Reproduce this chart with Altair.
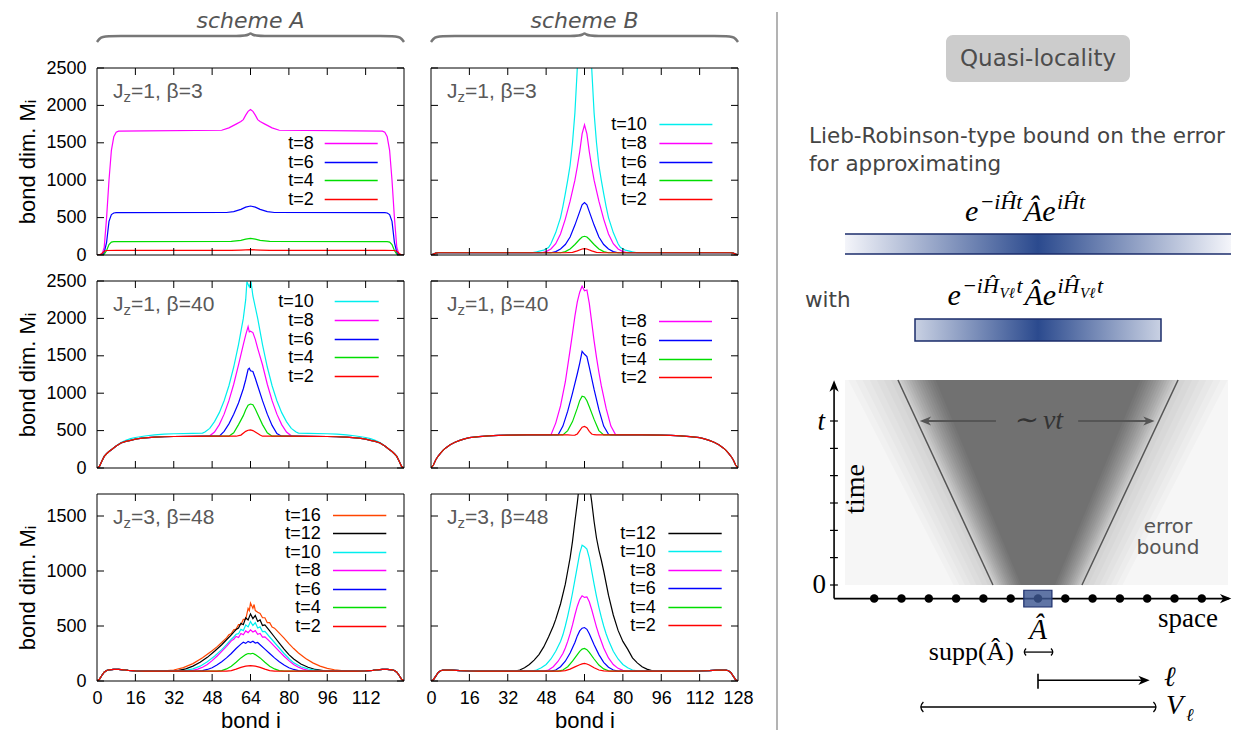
import altair as alt
import pandas as pd

SANS = "Liberation Sans"
DJ = "DejaVu Sans"
SERIF = "Liberation Serif"

COL = {"t=2": "#ff0000", "t=4": "#00dd00", "t=6": "#0000ff", "t=8": "#ff00ff",
       "t=10": "#00eeee", "t=12": "#000000", "t=16": "#ff4500"}

Y25 = [0, 500, 1000, 1500, 2000, 2500]
Y17 = [0, 500, 1000, 1500]
XT_A = [0, 16, 32, 48, 64, 80, 96, 112]
XT_B = [0, 16, 32, 48, 64, 80, 96, 112, 128]
XT_IN = [16, 32, 48, 64, 80, 96, 112]

# ---------------- data: (bond i, bond dimension M_i) ----------------
A1_t2 = [(0,0),(1,0),(2,20),(3,50),(4,60),(8,62),(56,62),(60,66),(64,72),(68,66),(72,62),(120,62),(124,60),(125,50),(126,20),(127,0),(128,0)]
A1_t4 = [(0,0),(2,0),(3,10),(4,60),(5,140),(6,172),(7,179),(10,180),(56,181),(60,195),(62,212),(64,222),(66,212),(68,195),(72,181),(118,180),(121,179),(122,172),(123,140),(124,60),(125,10),(126,0),(128,0)]
A1_t6 = [(0,0),(2,0),(3,30),(4,170),(5,450),(6,540),(7,562),(8,567),(54,568),(57,580),(60,610),(62,640),(64,655),(66,640),(68,610),(71,580),(74,568),(120,567),(121,562),(122,540),(123,450),(124,170),(125,30),(126,0),(128,0)]
A1_t8 = [(0,0),(2,0),(3,100),(4,500),(5,1000),(6,1400),(7,1580),(8,1640),(9,1655),(20,1660),(52,1668),(55,1700),(58,1750),(60,1785),(61,1810),(62,1870),(63,1920),(64,1945),(65,1920),(66,1870),(67,1810),(68,1785),(70,1750),(73,1700),(76,1668),(108,1660),(119,1655),(120,1640),(121,1580),(122,1400),(123,1000),(124,500),(125,100),(126,0),(128,0)]

B1_base = [(0,0),(1,12),(2,25),(3,30),(125,30),(126,25),(127,12),(128,0)]
B1_t2 = [(56,30),(59,36),(61,55),(63,80),(64,85),(65,80),(67,55),(69,36),(72,30)]
B1_t4 = [(54,30),(56,45),(58,80),(60,140),(62,210),(63,240),(64,250),(65,240),(66,210),(68,140),(70,80),(72,45),(74,30)]
B1_t6 = [(50,30),(52,45),(54,80),(56,140),(58,240),(60,400),(62,580),(63,670),(64,700),(65,670),(66,580),(68,400),(70,240),(72,140),(74,80),(76,45),(78,30)]
B1_t8 = [(46,30),(48,45),(50,80),(52,150),(54,280),(56,480),(58,720),(60,1000),(61,1180),(62,1380),(63,1620),(64,1740),(65,1620),(66,1380),(67,1180),(68,1000),(70,720),(72,480),(74,280),(76,150),(78,80),(80,45),(82,30)]
B1_t10 = [(42,30),(44,42),(47,65),(49,100),(50,150),(52,300),(54,500),(55,650),(56,820),(57,1000),(58,1200),(59,1500),(60,1900),(61,2500),(62,3000),(63,3500),(64,3800),(65,3500),(66,3000),(67,2500),(68,1900),(69,1500),(70,1200),(71,1000),(72,820),(73,650),(74,500),(76,300),(78,150),(79,100),(81,65),(84,42),(86,30)]

A2_base = [(0,0),(1,20),(2,90),(3,155),(4,190),(5,220),(6,245),(8,295),(10,335),(12,355),(14,370),(16,385),(18,395),(20,402),(24,412),(28,418),(32,421),(40,424),(48,425),(80,425),(88,424),(96,421),(100,418),(104,412),(108,402),(110,395),(112,385),(114,370),(116,355),(118,335),(120,295),(122,245),(123,220),(124,190),(125,155),(126,90),(127,20),(128,0)]
A2_t2 = [(58,425),(60,440),(62,490),(63,505),(64,510),(65,500),(66,480),(68,440),(69,425)]
A2_t4 = [(55,425),(57,470),(59,580),(61,700),(62,780),(63,840),(64,855),(65,845),(66,790),(67,720),(69,580),(71,470),(73,425)]
A2_t6 = [(51,425),(53,490),(55,590),(57,720),(59,870),(61,1060),(62,1180),(63,1320),(63.5,1335),(64,1300),(65,1290),(66,1200),(67,1100),(69,900),(71,720),(73,570),(75,460),(77,425)]
A2_t8 = [(47,430),(49,480),(51,580),(53,720),(55,900),(57,1120),(59,1380),(61,1650),(62,1780),(63,1890),(63.5,1820),(64,1830),(65,1810),(66,1720),(67,1600),(69,1380),(71,1120),(73,900),(75,720),(77,580),(79,480),(81,430)]
A2_t10 = [(0,0),(1,20),(2,90),(3,155),(4,190),(5,220),(6,245),(8,295),(10,340),(12,370),(14,392),(16,408),(20,428),(24,442),(28,452),(32,458),(40,462),(44,466),(45,480),(47,530),(49,620),(51,740),(53,900),(55,1100),(57,1350),(59,1650),(61,2000),(62,2250),(62.5,2490),(63.5,2420),(64.2,2495),(65,2300),(66,2150),(67,2000),(69,1650),(71,1350),(73,1100),(75,900),(77,740),(79,620),(81,530),(83,480),(84,466),(88,462),(96,458),(100,452),(104,442),(108,428),(112,408),(114,392),(116,370),(118,340),(120,295),(122,245),(123,220),(124,190),(125,155),(126,90),(127,20),(128,0)]

B2_base = [(0,0),(1,40),(2,110),(3,160),(4,200),(5,235),(6,265),(8,310),(10,345),(12,370),(14,390),(16,405),(20,420),(24,430),(28,436),(32,440),(40,442),(48,443),(80,443),(88,442),(96,440),(100,436),(104,430),(108,420),(112,405),(114,390),(116,370),(118,345),(120,310),(122,265),(123,235),(124,200),(125,160),(126,110),(127,40),(128,0)]
B2_t2 = [(57,443),(59,438),(60,440),(61,455),(62,500),(63,545),(64,555),(65,540),(66,490),(67,455),(68,445),(69,443)]
B2_t4 = [(55,443),(57,500),(59,620),(61,800),(62,900),(63,960),(64,950),(65,900),(66,820),(68,650),(70,500),(72,443)]
B2_t6 = [(53,443),(55,560),(57,760),(59,1000),(61,1260),(62,1400),(63,1560),(64,1520),(65,1490),(66,1350),(68,1050),(70,780),(72,560),(74,450),(75,443)]
B2_t8 = [(50,443),(52,600),(54,830),(56,1150),(58,1580),(59,1800),(60,2030),(61,2220),(62,2350),(63,2430),(64,2370),(65,2380),(66,2200),(67,1950),(68,1700),(69,1480),(70,1280),(71,1100),(73,800),(75,560),(77,443)]

A3_base = [(0,0),(1,15),(2,50),(3,80),(4,95),(5,102),(7,106),(9,106),(11,102),(13,96),(16,92),(20,90),(108,90),(112,92),(115,96),(117,102),(119,106),(121,106),(123,102),(124,95),(125,80),(126,50),(127,15),(128,0)]
A3_t2 = [(54,90),(56,95),(58,108),(60,124),(62,135),(64,140),(66,135),(68,124),(70,108),(72,95),(74,90)]
A3_t4 = [(50,90),(52,95),(54,110),(56,135),(58,170),(60,210),(62,240),(63,250),(64,246),(65,252),(66,240),(68,210),(70,170),(72,135),(74,110),(76,95),(78,90)]
A3_t6 = [(42,90),(44,95),(46,105),(48,120),(50,145),(52,175),(54,210),(56,250),(58,295),(60,335),(61,352),(62,342),(63,360),(64,350),(65,362),(66,345),(67,350),(68,330),(70,290),(72,250),(74,210),(76,175),(78,145),(80,120),(82,105),(84,95),(86,90)]
A3_t8 = [(38,90),(40,97),(42,108),(44,125),(46,150),(48,185),(50,225),(52,270),(54,315),(56,365),(57,380),(58,405),(59,395),(60,432),(61,420),(62,455),(63,440),(64,465),(65,445),(66,458),(67,425),(68,432),(69,400),(70,402),(72,360),(74,315),(76,270),(78,225),(80,185),(82,150),(84,125),(86,108),(88,97),(90,90)]
A3_t10 = [(35,90),(37,96),(40,110),(43,135),(46,175),(49,225),(52,285),(54,330),(56,380),(57,400),(58,425),(59,430),(60,470),(61,458),(62,510),(63,492),(64,540),(65,505),(66,530),(67,482),(68,492),(69,450),(70,452),(72,400),(74,350),(76,300),(78,250),(80,205),(82,165),(85,130),(88,110),(91,98),(94,90)]
A3_t12 = [(31,90),(34,97),(37,110),(40,135),(43,170),(46,215),(49,270),(52,330),(54,375),(56,420),(57,445),(58,468),(59,482),(60,525),(61,512),(62,575),(63,555),(64,610),(65,567),(66,595),(67,542),(68,555),(69,505),(70,510),(72,455),(74,400),(76,345),(78,290),(80,240),(82,200),(85,155),(88,125),(91,105),(95,93),(98,90)]
A3_t16 = [(24,90),(28,93),(32,100),(36,122),(40,158),(44,212),(48,275),(50,310),(52,350),(53,372),(54,392),(55,420),(56,432),(57,466),(58,472),(59,512),(60,512),(61,560),(62,560),(63,660),(63.5,640),(64,708),(65,660),(65.5,695),(66,640),(67,625),(68,615),(69,575),(70,575),(71,530),(72,530),(73,490),(74,480),(76,435),(78,390),(80,340),(82,295),(84,255),(87,205),(90,165),(93,135),(96,115),(99,102),(102,95),(105,90)]

B3_base = [(0,0),(1,12),(2,45),(3,78),(4,93),(5,98),(7,100),(9,99),(12,94),(16,91),(20,90),(108,90),(112,91),(116,94),(119,99),(121,100),(123,98),(124,93),(125,78),(126,45),(127,12),(128,0)]
B3_t2 = [(54,90),(56,95),(58,108),(60,128),(62,148),(63,156),(64,160),(65,155),(66,145),(68,120),(70,100),(72,92),(74,90)]
B3_t4 = [(53,90),(55,100),(57,130),(59,180),(61,240),(62,270),(63,290),(64,296),(65,285),(66,260),(68,200),(70,145),(72,110),(74,93),(75,90)]
B3_t6 = [(50,90),(52,100),(54,130),(56,180),(58,255),(60,350),(61,410),(62,455),(63,480),(64,486),(65,470),(66,430),(67,380),(68,330),(70,240),(72,170),(74,125),(76,100),(78,90)]
B3_t8 = [(47,90),(49,100),(51,130),(53,180),(55,250),(56,300),(57,360),(58,430),(59,510),(60,600),(61,680),(62,740),(63,775),(64,760),(65,765),(66,720),(67,650),(68,570),(69,490),(70,420),(72,300),(74,210),(76,150),(78,115),(80,97),(82,90)]
B3_t10 = [(42,90),(44,100),(46,120),(48,150),(50,200),(52,270),(54,360),(55,420),(56,500),(57,590),(58,690),(59,800),(60,920),(61,1040),(62,1160),(63,1235),(64,1220),(65,1200),(66,1120),(67,1000),(68,880),(69,770),(70,670),(71,580),(72,500),(73,430),(74,370),(76,270),(78,200),(80,150),(82,120),(84,100),(86,92),(88,90)]
B3_t12 = [(35,90),(37,100),(39,120),(41,150),(43,190),(45,240),(47,310),(49,400),(51,500),(52,560),(54,700),(56,880),(57,1000),(58,1120),(59,1270),(60,1450),(61,1620),(62,1820),(63,2000),(64,2050),(65,1950),(66,1790),(67,1630),(68,1450),(69,1300),(70,1190),(71,1100),(72,1000),(74,780),(76,600),(78,460),(80,360),(82,290),(84,210),(86,165),(88,130),(90,108),(92,95),(93,90)]

# brace shape for the scheme headers (bond i, depth)
BRACE = [(0,34),(1,31),(2.5,29),(5,28.3),(10,28),(58,28),(61.5,27.5),(63.2,26.5),(64,25.5),(64.8,26.5),(66.5,27.5),(70,28),(118,28),(123,28.3),(125.5,29),(127,31),(128,34)]

# light-cone diagram values (lattice sites, time)
SITES = list(range(-6, 7))
T_TICKS = [0.0, 0.167, 0.333, 0.5, 0.667, 0.833, 1.0]
LATTICE_T = -0.083
CONE = [(-5.13, 1.25, -1.65, 0.0), (5.13, 1.25, 1.61, 0.0)]

PW, PH = 307, 187
ONE = pd.DataFrame({"k": [0]})


def merge(base, peak):
    lo, hi = peak[0][0], peak[-1][0]
    return sorted([p for p in base if p[0] < lo or p[0] > hi] + list(peak))


def txt(s, x, y, **kw):
    return alt.Chart(ONE).mark_text(text=s, **kw).encode(x=alt.value(x), y=alt.value(y))


def panel(curves, ymax, yvals, jz, beta, geom, show_y, xvals, step=18.6):
    xs = alt.Scale(domain=[0, 128], nice=False, zero=False)
    ys = alt.Scale(domain=[0, ymax], nice=False)
    yax = alt.Axis(values=yvals, format="d", title="bond dim. Mᵢ", grid=False, domain=False, ticks=False,
                   tickSize=0, labelPadding=11, titlePadding=6, labelFont=SANS, titleFont=SANS,
                   labelFontSize=18, titleFontSize=22, titleFontWeight="normal",
                   labelColor="black", titleColor="black", labelOverlap=False) if show_y else None
    xax = alt.Axis(values=xvals, format="d", title="bond i", grid=False, domain=False, ticks=False,
                   tickSize=0, labelPadding=8, titlePadding=3, labelFont=SANS, titleFont=SANS,
                   labelFontSize=18, titleFontSize=22, titleFontWeight="normal", labelFlush=False,
                   labelColor="black", titleColor="black", labelOverlap=False) if xvals else None
    L = []
    for lab, pts in curves:
        df = pd.DataFrame(pts, columns=["i", "M"])
        L.append(alt.Chart(df).mark_line(color=COL[lab], strokeWidth=1.2, clip=True).encode(
            x=alt.X("i:Q", scale=xs, axis=xax), y=alt.Y("M:Q", scale=ys, axis=yax)))
    yt = pd.DataFrame({"M": yvals})
    for a, b in [(0, 7), (PW - 7, PW)]:
        L.append(alt.Chart(yt).mark_rule(color="black", strokeWidth=1).encode(
            y=alt.Y("M:Q", scale=ys, axis=yax), x=alt.value(a), x2=alt.value(b)))
    xt = pd.DataFrame({"i": XT_IN})
    for a, b in [(0, 7), (PH - 7, PH)]:
        L.append(alt.Chart(xt).mark_rule(color="black", strokeWidth=1).encode(
            x=alt.X("i:Q", scale=xs, axis=xax), y=alt.value(a), y2=alt.value(b)))
    L.append(alt.Chart(ONE).mark_rect(fillOpacity=0, stroke="black", strokeWidth=1).encode(
        x=alt.value(0), x2=alt.value(PW), y=alt.value(0), y2=alt.value(PH)))
    tr, l1, l2, y0 = geom
    for k, (lab, _) in enumerate(curves):
        yy = round(y0 + k * step) + 0.5
        L.append(txt(lab, tr, yy, align="right", baseline="middle", font=SANS, fontSize=18, color="black"))
        L.append(alt.Chart(ONE).mark_rule(color=COL[lab], strokeWidth=1.3).encode(
            x=alt.value(l1), x2=alt.value(l2), y=alt.value(yy)))
    g = "#595959"
    L.append(txt("J", 16, 29.5, align="left", baseline="alphabetic", font=SANS, fontSize=21, color=g))
    L.append(txt("z", 26.5, 34, align="left", baseline="alphabetic", font=SANS, fontSize=15, color=g))
    L.append(txt(f"={jz}, β={beta}", 34, 29.5, align="left", baseline="alphabetic", font=SANS, fontSize=21, color=g))
    return alt.layer(*L).properties(width=PW, height=PH)


def header(label):
    df = pd.DataFrame(BRACE, columns=["i", "h"])
    line = alt.Chart(df).mark_line(color="#777777", strokeWidth=2.5, interpolate="monotone").encode(
        x=alt.X("i:Q", scale=alt.Scale(domain=[0, 128], nice=False, zero=False), axis=None),
        y=alt.Y("h:Q", scale=alt.Scale(domain=[0, 34], reverse=True, nice=False), axis=None))
    t = txt(label, PW / 2, 3, align="center", baseline="top", font=DJ, fontStyle="italic",
            fontSize=22, color="#555555")
    return alt.layer(line, t).properties(width=PW, height=34)


A1 = panel([("t=8", A1_t8), ("t=6", A1_t6), ("t=4", A1_t4), ("t=2", A1_t2)],
           2500, Y25, 1, 3, (216.7, 227.7, 280.7, 75), True, None)
B1 = panel([("t=10", merge(B1_base, B1_t10)), ("t=8", merge(B1_base, B1_t8)), ("t=6", merge(B1_base, B1_t6)),
            ("t=4", merge(B1_base, B1_t4)), ("t=2", merge(B1_base, B1_t2))],
           2500, Y25, 1, 3, (215.7, 228.4, 281.4, 56.3), False, None)
A2 = panel([("t=10", A2_t10), ("t=8", merge(A2_base, A2_t8)), ("t=6", merge(A2_base, A2_t6)),
            ("t=4", merge(A2_base, A2_t4)), ("t=2", merge(A2_base, A2_t2))],
           2500, Y25, 1, 40, (216.7, 237.7, 281.7, 20.3), True, None)
B2 = panel([("t=8", merge(B2_base, B2_t8)), ("t=6", merge(B2_base, B2_t6)),
            ("t=4", merge(B2_base, B2_t4)), ("t=2", merge(B2_base, B2_t2))],
           2500, Y25, 1, 40, (215.7, 228, 281, 40.3), False, None)
A3 = panel([("t=16", merge(A3_base, A3_t16)), ("t=12", merge(A3_base, A3_t12)), ("t=10", merge(A3_base, A3_t10)),
            ("t=8", merge(A3_base, A3_t8)), ("t=6", merge(A3_base, A3_t6)), ("t=4", merge(A3_base, A3_t4)),
            ("t=2", merge(A3_base, A3_t2))],
           1700, Y17, 3, 48, (223.7, 236, 289.3, 21), True, XT_A, step=18.45)
B3 = panel([("t=12", merge(B3_base, B3_t12)), ("t=10", merge(B3_base, B3_t10)), ("t=8", merge(B3_base, B3_t8)),
            ("t=6", merge(B3_base, B3_t6)), ("t=4", merge(B3_base, B3_t4)), ("t=2", merge(B3_base, B3_t2))],
           1700, Y17, 3, 48, (224.7, 237.4, 290.7, 39), False, XT_B, step=18.45)

# ---------------- right-hand illustration ----------------
WR, HR = 458, 722
SX0, TY0, SPX, TPX = 262, 577, 27.3, 164
xr = alt.Scale(domain=[-SX0 / SPX, (WR - SX0) / SPX], nice=False, zero=False)
yr = alt.Scale(domain=[(TY0 - HR) / TPX, TY0 / TPX], nice=False, zero=False)

ARR_R = "M 0 0 L -1.6 -0.65 L -1.15 0 L -1.6 0.65 Z"
ARR_L = "M 0 0 L 1.6 -0.65 L 1.15 0 L 1.6 0.65 Z"
ARR_U = "M 0 0 L -0.65 1.6 L 0 1.15 L 0.65 1.6 Z"
HOOK_L = "M 0.5 -1 Q -0.5 0 0.5 1"
HOOK_R = "M -0.5 -1 Q 0.5 0 -0.5 1"


def seg(rows, **kw):
    df = pd.DataFrame(rows, columns=["x1", "t1", "x2", "t2"])
    return alt.Chart(df).mark_rule(**kw).encode(
        x=alt.X("x1:Q", scale=xr, axis=None), y=alt.Y("t1:Q", scale=yr, axis=None),
        x2="x2:Q", y2="t2:Q")


def sym(rows, shape, size, color, filled=True, sw=1.3):
    df = pd.DataFrame(rows, columns=["s", "t"])
    kw = dict(shape=shape, size=size, opacity=1, filled=filled)
    if filled:
        kw.update(fill=color, strokeWidth=0)
    else:
        kw.update(stroke=color, strokeWidth=sw)
    return alt.Chart(df).mark_point(**kw).encode(
        x=alt.X("s:Q", scale=xr, axis=None), y=alt.Y("t:Q", scale=yr, axis=None))


navy = "#1b2d6b"
G1 = alt.LinearGradient(gradient="linear", x1=0, x2=1, y1=0, y2=0, stops=[
    alt.GradientStop(color="#f4f5fa", offset=0), alt.GradientStop(color="#2b4a8e", offset=0.5),
    alt.GradientStop(color="#f4f5fa", offset=1)])
G2 = alt.LinearGradient(gradient="linear", x1=0, x2=1, y1=0, y2=0, stops=[
    alt.GradientStop(color="#c9d1e3", offset=0), alt.GradientStop(color="#2b4a8e", offset=0.5),
    alt.GradientStop(color="#c9d1e3", offset=1)])

R = []
R.append(alt.Chart(ONE).mark_rule(color="#b3b3b3", strokeWidth=2).encode(
    x=alt.value(1), y=alt.value(4), y2=alt.value(HR)))
R.append(alt.Chart(ONE).mark_rect(fill="#cccccc", cornerRadius=7).encode(
    x=alt.value(170), x2=alt.value(354), y=alt.value(27), y2=alt.value(74)))
R.append(txt("Quasi-locality", 262, 51, align="center", baseline="middle", font=DJ, fontSize=23, color="#4d4d4d"))
R.append(txt("Lieb-Robinson-type bound on the error", 33, 135, align="left", baseline="alphabetic",
             font=DJ, fontSize=21.5, color="#444444"))
R.append(txt("for approximating", 33, 163, align="left", baseline="alphabetic", font=DJ, fontSize=21.5,
             color="#444444"))


def formula(pieces, x0):
    out = []
    for s, dx, y, fs in pieces:
        out.append(txt(s, x0 + dx, y, align="left", baseline="alphabetic", font=SERIF, fontStyle="italic",
                       fontSize=fs, color="black"))
    return out


R += formula([("e", 0, 213, 30), ("−iĤt", 14.5, 201, 22), ("Âe", 59, 213, 30), ("iĤt", 92, 201, 22)], 189)
R.append(alt.Chart(ONE).mark_rect(fill=G1).encode(
    x=alt.value(69), x2=alt.value(455), y=alt.value(226), y2=alt.value(246)))
for yy in (226, 246):
    R.append(alt.Chart(ONE).mark_rule(color=navy, strokeWidth=1.5).encode(
        x=alt.value(69), x2=alt.value(455), y=alt.value(yy)))
R.append(txt("with", 29, 299, align="left", baseline="alphabetic", font=DJ, fontSize=21.5, color="#444444"))
R += formula([("e", 0, 297, 30), ("−iĤ", 14.5, 285, 22), ("Vℓ", 52, 290, 15), ("t", 69, 285, 22),
              ("Âe", 77, 297, 30), ("iĤ", 110, 285, 22), ("Vℓ", 132.5, 290, 15), ("t", 149.5, 285, 22)], 171.5)
R.append(alt.Chart(ONE).mark_rect(fill=G2, stroke=navy, strokeWidth=1.5).encode(
    x=alt.value(139), x2=alt.value(385), y=alt.value(311), y2=alt.value(333)))

# light-cone picture: pale background plus many faint nested trapezoids for a soft cone
img = pd.DataFrame({"x1": [-7.07], "x2": [6.96], "t1": [0.0], "t2": [1.25]})
R.append(alt.Chart(img).mark_rect(fill="#f6f6f6").encode(
    x=alt.X("x1:Q", scale=xr, axis=None), x2="x2:Q", y=alt.Y("t1:Q", scale=yr, axis=None), y2="t2:Q"))
shade = []
n_out, n_in = 8, 14
for k in range(n_out):
    f = k / (n_out - 1)
    shade.append((3.1 + (1.63 - 3.1) * f, 6.95 + (5.13 - 6.95) * f, 0.02))
for k in range(1, n_in + 1):
    f = k / n_in
    shade.append((1.63 + (0.62 - 1.63) * f, 5.13 + (3.75 - 5.13) * f, 0.038))
for hb, ht, op in shade:
    df = pd.DataFrame({"t": [0.0, 1.25], "xl": [-hb, -ht], "xh": [hb, ht]})
    R.append(alt.Chart(df).mark_area(orient="horizontal", color="black", opacity=op).encode(
        y=alt.Y("t:Q", scale=yr, axis=None), x=alt.X("xl:Q", scale=xr, axis=None), x2="xh:Q"))
R.append(seg(CONE, color="#555555", strokeWidth=1.5))
R.append(seg([(-4.2, 1.0, -1.54, 1.0), (1.47, 1.0, 4.15, 1.0)], color="#555555", strokeWidth=2.2))
R.append(sym([(-4.33, 1.0)], ARR_L, 200, "#555555"))
R.append(sym([(4.27, 1.0)], ARR_R, 200, "#555555"))
R.append(txt("∼ vt", 262, 413, align="center", baseline="middle", font=SERIF, fontStyle="italic",
             fontSize=28, color="#333333"))
R.append(txt("time", 80, 481, align="center", baseline="middle", angle=270, font=SERIF, fontSize=28,
             color="black"))
R.append(txt("error", 392, 524.5, align="center", baseline="alphabetic", font=DJ, fontSize=20, color="#555555"))
R.append(txt("bound", 392, 546, align="center", baseline="alphabetic", font=DJ, fontSize=20, color="#555555"))
# axes
R.append(seg([(-7.47, LATTICE_T, -7.47, 1.2), (-7.47, LATTICE_T, 7.0, LATTICE_T)], color="black", strokeWidth=1.6))
R.append(sym([(-7.47, 1.248)], ARR_U, 200, "black"))
R.append(sym([(7.08, LATTICE_T)], ARR_R, 200, "black"))
R.append(seg([(-7.62, tt, -7.33, tt) for tt in T_TICKS], color="black", strokeWidth=1.2))
R.append(txt("t", 49, 414, align="right", baseline="middle", font=SERIF, fontStyle="italic", fontSize=27, color="black"))
R.append(txt("0", 50, 576.5, align="right", baseline="middle", font=SERIF, fontSize=27, color="black"))
dots = pd.DataFrame({"s": SITES, "t": LATTICE_T})
R.append(alt.Chart(dots).mark_circle(size=72, color="black", opacity=1).encode(
    x=alt.X("s:Q", scale=xr, axis=None), y=alt.Y("t:Q", scale=yr, axis=None)))
box = pd.DataFrame({"x1": [-0.52], "x2": [0.51], "t1": [-0.032], "t2": [-0.134]})
R.append(alt.Chart(box).mark_rect(fill="#3d5791", fillOpacity=0.82, stroke=navy, strokeWidth=1.2).encode(
    x=alt.X("x1:Q", scale=xr, axis=None), x2="x2:Q", y=alt.Y("t1:Q", scale=yr, axis=None), y2="t2:Q"))
R.append(txt("space", 412, 611, align="center", baseline="middle", font=SERIF, fontSize=27, color="black"))
R.append(txt("Â", 262, 622, align="center", baseline="middle", font=SERIF, fontStyle="italic", fontSize=29, color="black"))
R.append(txt("supp(Â)", 238, 644, align="right", baseline="middle", font=SERIF, fontSize=26, color="black"))
R.append(seg([(-0.5, -0.409, 0.54, -0.409)], color="black", strokeWidth=1.3))
R.append(sym([(-0.5, -0.409)], HOOK_L, 49, "black", filled=False))
R.append(sym([(0.54, -0.409)], HOOK_R, 49, "black", filled=False))
R.append(seg([(0.0, -0.581, 3.95, -0.581), (0.0, -0.541, 0.0, -0.632)], color="black", strokeWidth=1.6))
R.append(sym([(4.09, -0.581)], ARR_R, 200, "black"))
R.append(txt("ℓ", 388, 670, align="left", baseline="middle", font=SERIF, fontStyle="italic", fontSize=28, color="black"))
R.append(seg([(-4.29, -0.744, 4.32, -0.744)], color="black", strokeWidth=1.3))
R.append(sym([(-4.29, -0.744)], HOOK_L, 100, "black", filled=False))
R.append(sym([(4.32, -0.744)], HOOK_R, 100, "black", filled=False))
R.append(txt("V", 390, 698, align="left", baseline="middle", font=SERIF, fontStyle="italic", fontSize=28, color="black"))
R.append(txt("ℓ", 410, 708, align="left", baseline="middle", font=SERIF, fontStyle="italic", fontSize=18, color="black"))

right = alt.layer(*R).properties(width=WR, height=HR)

grid = alt.concat(header("scheme A"), header("scheme B"), A1, B1, A2, B2, A3, B3,
                  columns=2, spacing={"row": 26, "column": 27}, bounds="flush")

chart = alt.hconcat(grid, right, spacing=22).properties(
    padding={"left": 8, "top": 0, "right": 0, "bottom": 0}
).configure_view(strokeWidth=0)

chart.save("out.html", embed_options={"renderer": "svg", "actions": False})
